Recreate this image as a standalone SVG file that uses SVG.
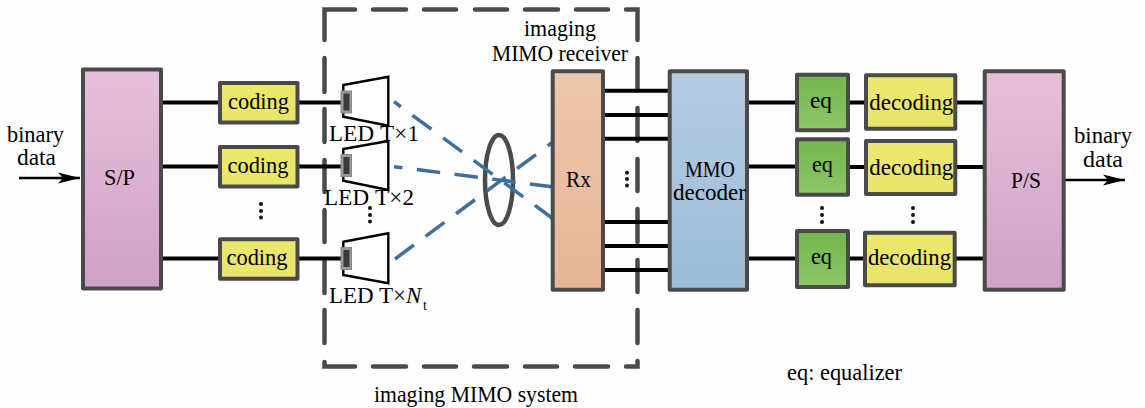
<svg xmlns="http://www.w3.org/2000/svg" width="1145" height="408" viewBox="0 0 1145 408">
<style>
text{font-family:"Liberation Serif","DejaVu Serif",serif;font-size:23px;fill:#000}
.b{stroke:#4a4a4a;stroke-width:4;stroke-linejoin:round}
.pink{fill:url(#pink)}.blue{fill:url(#blue)}.peach{fill:url(#peach)}.green{fill:url(#green)}.yel{fill:url(#yel)}
.w{stroke:#000;stroke-width:4;fill:none}
.thin{stroke:#000;stroke-width:2.6;fill:none}
.light{stroke:#3f6f9f;stroke-width:3.5;fill:none;stroke-dasharray:23.5 14.5}
.trap{fill:#fff;stroke:#000;stroke-width:2.4}
.chipo{fill:#9a9a9a;stroke:#8a8a8a}.chipi{fill:#3a3a3a}
.dash{fill:none;stroke:#4a4a4a;stroke-width:4.5;stroke-linecap:round;stroke-linejoin:miter}
.dot{fill:#111}
</style>
<defs>
<linearGradient id="pink" x1="0" y1="0" x2="0" y2="1"><stop offset="0" stop-color="#e6c0db"/><stop offset="1" stop-color="#d0a0c6"/></linearGradient>
<linearGradient id="blue" x1="0" y1="0" x2="0" y2="1"><stop offset="0" stop-color="#b4cce1"/><stop offset="1" stop-color="#9cbbd5"/></linearGradient>
<linearGradient id="peach" x1="0" y1="0" x2="0" y2="1"><stop offset="0" stop-color="#efc7ab"/><stop offset="1" stop-color="#e6b596"/></linearGradient>
<linearGradient id="green" x1="0" y1="0" x2="0" y2="1"><stop offset="0" stop-color="#72b54e"/><stop offset="1" stop-color="#8cc668"/></linearGradient>
<linearGradient id="yel" x1="0" y1="0" x2="0" y2="1"><stop offset="0" stop-color="#ebe86c"/><stop offset="1" stop-color="#e9e56a"/></linearGradient>
<marker id="arr" markerUnits="userSpaceOnUse" markerWidth="24" markerHeight="14" refX="22" refY="7" orient="auto"><path d="M0 1.5L22 7L0 12.5L5 7Z" fill="#000"/></marker>
</defs>
<rect width="1145" height="408" fill="#fefefe"/>
<g id="system-boundary">
<path class="dash" d="M324.5 40V9.5H355M373 9.5H406M424 9.5H456M475 9.5H507M525 9.5H558M576 9.5H608M626 9.5H637.5V40M637.5 58V90M637.5 108V141M637.5 159V191M637.5 209V242M637.5 260V292M637.5 310V343M637.5 361V366.5H626M608 366.5H575M557 366.5H525M507 366.5H474M456 366.5H424M406 366.5H373M355 366.5H324.5V362M324.5 343V310M324.5 293V260M324.5 242V210M324.5 192V160M324.5 142V109M324.5 92V58"/>
</g>
<g id="connectors">
<path class="w" d="M161 102.5H220M161 166.5H220M161 258.5H220M299 102.5H341M299 166.5H341M299 258.5H341"/>
<path class="w" d="M604 90.7H670M604 115H670M604 138.7H670M604 222H670M604 246H670M604 270H670"/>
<path class="w" d="M748 102.5H797M748 166.5H797M748 258.5H797M849 102.5H866M849 167H866M849 258.5H865M956 102.5H985M956 167H985M955 258.5H985"/>
<path class="thin" d="M19 178H80" marker-end="url(#arr)"/>
<path class="thin" d="M1063 180H1125" marker-end="url(#arr)"/>
</g>
<g id="lens"><ellipse cx="499" cy="180" rx="14" ry="45" fill="none" stroke="#4a4a4a" stroke-width="4.5"/></g>
<g id="light-paths">
<path class="light" stroke-dashoffset="15" d="M394 101.7L552 218"/>
<path class="light" stroke-dashoffset="15" d="M394 166.7L552 186.7"/>
<path class="light" d="M395 259L552 142.7"/>
</g>
<g id="sp"><rect class="b pink" x="83" y="69.5" width="78" height="219"/><text x="104" y="185" textLength="31" lengthAdjust="spacingAndGlyphs">S/P</text></g>
<g id="input-label"><text x="7" y="141.5" textLength="57" lengthAdjust="spacingAndGlyphs">binary</text><text x="17" y="165" textLength="39" lengthAdjust="spacingAndGlyphs">data</text></g>
<g id="coding1"><rect class="b yel" x="220" y="83" width="77.5" height="39.5"/><text x="228" y="109" textLength="61" lengthAdjust="spacingAndGlyphs">coding</text></g>
<g id="coding2"><rect class="b yel" x="220" y="147" width="77.5" height="39.5"/><text x="227.500" y="173" textLength="61" lengthAdjust="spacingAndGlyphs">coding</text></g>
<g id="coding3"><rect class="b yel" x="220" y="239.300" width="77.5" height="39.5"/><text x="226.500" y="265" textLength="61" lengthAdjust="spacingAndGlyphs">coding</text></g>
<g id="coding-dots"><circle class="dot" cx="261" cy="204" r="2"/><circle class="dot" cx="261" cy="211" r="2"/><circle class="dot" cx="261" cy="217.500" r="2"/></g>
<g id="led1"><path class="trap" d="M343.300 85L388.300 76.700V125.700L343.300 116.700Z"/><rect class="chipo" x="341" y="91" width="10.500" height="22"/><rect class="chipi" x="343.500" y="93.500" width="6" height="17"/><text x="329" y="141" textLength="90" lengthAdjust="spacing">LED T×1</text></g>
<g id="led2"><path class="trap" d="M343.300 149L388.300 141V190L343.300 180.700Z"/><rect class="chipo" x="341" y="154.500" width="10.500" height="22"/><rect class="chipi" x="343.500" y="157" width="6" height="17"/><text x="324" y="205" textLength="90" lengthAdjust="spacing">LED T×2</text></g>
<g id="led3"><path class="trap" d="M343.300 241.700L388.300 233.300V283.300L343.300 275Z"/><rect class="chipo" x="341" y="247.500" width="10.500" height="22"/><rect class="chipi" x="343.500" y="250" width="6" height="17"/><text x="329" y="302.500">LED T×<tspan font-style="italic">N</tspan></text><text x="423" y="310" style="font-size:14px">t</text></g>
<g id="led-dots"><circle class="dot" cx="370" cy="208" r="2"/><circle class="dot" cx="370" cy="215" r="2"/><circle class="dot" cx="370" cy="221.500" r="2"/></g>
<g id="rx"><rect class="b peach" x="552.700" y="71.300" width="50.300" height="218.400"/><text x="566" y="186.700" textLength="25" lengthAdjust="spacingAndGlyphs">Rx</text></g>
<g id="rx-dots"><circle class="dot" cx="627" cy="172.700" r="2"/><circle class="dot" cx="627" cy="179" r="2"/><circle class="dot" cx="627" cy="185.500" r="2"/></g>
<g id="mmo"><rect class="b blue" x="669.700" y="71.300" width="77.300" height="218.400"/><text x="685" y="176.700" textLength="50" lengthAdjust="spacingAndGlyphs">MMO</text><text x="673" y="200" textLength="73" lengthAdjust="spacingAndGlyphs">decoder</text></g>
<g id="eq1"><rect class="b green" x="797" y="74.700" width="51" height="55.600"/><text x="810" y="108" textLength="22" lengthAdjust="spacingAndGlyphs">eq</text></g>
<g id="eq2"><rect class="b green" x="797" y="139.300" width="51" height="55.400"/><text x="812" y="172" textLength="21" lengthAdjust="spacingAndGlyphs">eq</text></g>
<g id="eq3"><rect class="b green" x="797" y="231" width="51" height="56"/><text x="811" y="264" textLength="21" lengthAdjust="spacingAndGlyphs">eq</text></g>
<g id="eq-dots"><circle class="dot" cx="822" cy="208" r="2"/><circle class="dot" cx="822" cy="215" r="2"/><circle class="dot" cx="822" cy="222" r="2"/></g>
<g id="dec1"><rect class="b yel" x="866" y="75.300" width="89.300" height="53.400"/><text x="869.300" y="110" textLength="84" lengthAdjust="spacingAndGlyphs">decoding</text></g>
<g id="dec2"><rect class="b yel" x="866" y="141" width="89.300" height="53"/><text x="869.300" y="175" textLength="84" lengthAdjust="spacingAndGlyphs">decoding</text></g>
<g id="dec3"><rect class="b yel" x="865" y="232.700" width="89.700" height="52.600"/><text x="868" y="265" textLength="83" lengthAdjust="spacingAndGlyphs">decoding</text></g>
<g id="dec-dots"><circle class="dot" cx="913" cy="208" r="2"/><circle class="dot" cx="913" cy="215" r="2"/><circle class="dot" cx="913" cy="222" r="2"/></g>
<g id="ps"><rect class="b pink" x="984.700" y="71.300" width="79" height="218.400"/><text x="1011" y="187.700" textLength="30" lengthAdjust="spacingAndGlyphs">P/S</text></g>
<g id="output-label"><text x="1074" y="143" textLength="58" lengthAdjust="spacingAndGlyphs">binary</text><text x="1083" y="167" textLength="40" lengthAdjust="spacingAndGlyphs">data</text></g>
<g id="captions">
<text x="524" y="36" textLength="72" lengthAdjust="spacingAndGlyphs">imaging</text>
<text x="492" y="61" textLength="136" lengthAdjust="spacingAndGlyphs">MIMO receiver</text>
<text x="374" y="401.500" textLength="204" lengthAdjust="spacingAndGlyphs">imaging MIMO system</text>
<text x="787" y="380" textLength="115" lengthAdjust="spacingAndGlyphs">eq: equalizer</text>
</g>
</svg>
